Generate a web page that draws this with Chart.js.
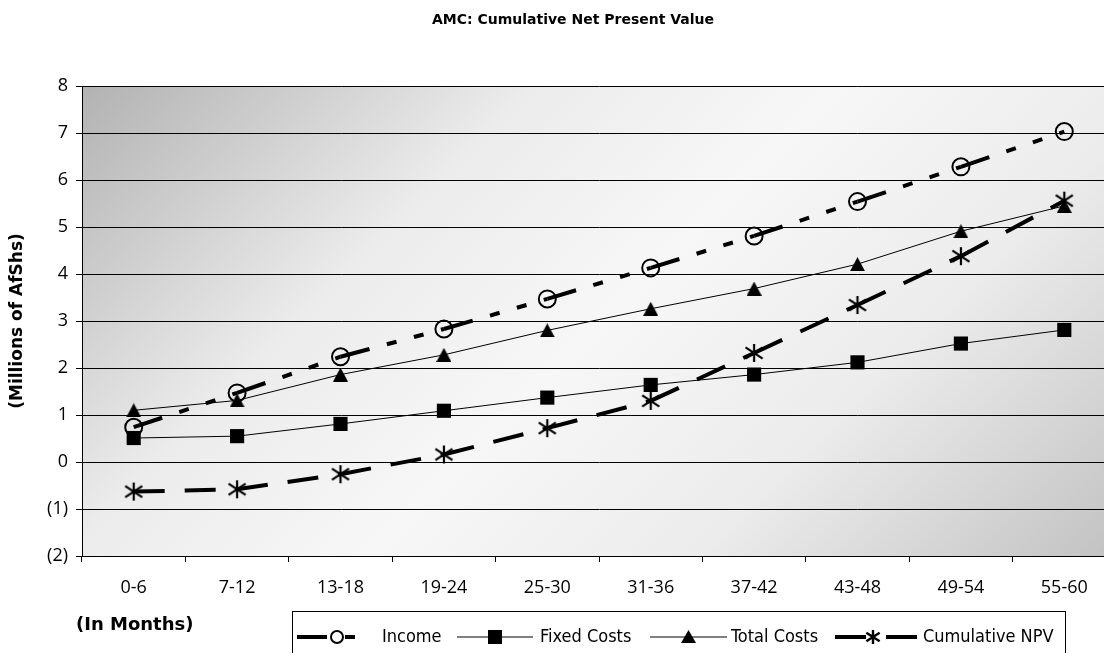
<!DOCTYPE html>
<html><head><meta charset="utf-8">
<script src="https://cdn.jsdelivr.net/npm/chart.js@4.4.1/dist/chart.umd.min.js"></script>
<style>
html,body{margin:0;padding:0;background:#fff;overflow:hidden;width:1104px;height:653px;}
#wrap{position:absolute;left:0;top:0;width:1150px;height:653px;}
</style></head><body>
<div id="wrap"><canvas id="c" width="1150" height="653"></canvas></div>
<script>
const categories = ['0-6','7-12','13-18','19-24','25-30','31-36','37-42','43-48','49-54','55-60'];
const income        = [0.74, 1.47, 2.24, 2.83, 3.47, 4.13, 4.81, 5.54, 6.28, 7.03];
const fixedCosts    = [0.51, 0.55, 0.81, 1.09, 1.37, 1.64, 1.86, 2.12, 2.52, 2.81];
const totalCosts    = [1.10, 1.31, 1.86, 2.28, 2.80, 3.26, 3.69, 4.21, 4.91, 5.45];
const cumulativeNPV = [-0.63, -0.58, -0.26, 0.16, 0.72, 1.30, 2.32, 3.34, 4.38, 5.56];
const yMin = -2, yMax = 8, yStep = 1;
const seriesNames = ['Income','Fixed Costs','Total Costs','Cumulative NPV'];
const chartTitle = 'AMC: Cumulative Net Present Value';
const yTitle = '(Millions of AfShs)';
const xTitle = '(In Months)';

const TICK_FONT = "'Open Sans', sans-serif";
const BOLD_FONT = "'DejaVu Sans', sans-serif";
const LEGEND_FONT = "'DejaVu Sans Condensed', 'DejaVu Sans', sans-serif";

function makeStar(size, lw){
  const c=document.createElement('canvas'); c.width=size; c.height=size;
  const g=c.getContext('2d'); g.strokeStyle='#000'; g.lineWidth=lw; g.lineCap='butt';
  const m=size/2, r=size/2-1;
  g.beginPath();
  g.moveTo(m, m-r); g.lineTo(m, m+r);
  g.moveTo(m-r*0.95, m-r*0.62); g.lineTo(m+r*0.95, m+r*0.62);
  g.moveTo(m-r*0.95, m+r*0.62); g.lineTo(m+r*0.95, m-r*0.62);
  g.stroke();
  return c;
}
function makeTri(w, h){
  const c=document.createElement('canvas'); c.width=w; c.height=h;
  const g=c.getContext('2d'); g.fillStyle='#000';
  g.beginPath(); g.moveTo(w/2,0); g.lineTo(w,h); g.lineTo(0,h); g.closePath(); g.fill();
  return c;
}
const starImg = makeStar(20, 2.2);
const triImg = makeTri(15, 14);
const starSmall = makeStar(16, 2.4);
const triSmall = makeTri(15, 13);

const incomeDash = [30, 18, 10, 18, 10, 18];
const npvDash = [31, 20];

const bgPlugin = {
  id: 'bg',
  beforeDraw(chart){
    const {ctx, chartArea:a} = chart;
    const w=a.right-a.left, h=a.bottom-a.top, D=(w+h)/2;
    const g=ctx.createLinearGradient(a.left, a.top, a.left+D, a.top+D);
    g.addColorStop(0, '#b2b2b2');
    g.addColorStop(0.3, '#ececec');
    g.addColorStop(0.5, '#f7f7f7');
    g.addColorStop(0.72, '#ececec');
    g.addColorStop(1, '#c2c2c2');
    ctx.save(); ctx.fillStyle=g; ctx.fillRect(a.left, a.top, w, h); ctx.restore();
  }
};

const textPlugin = {
  id: 'texts',
  afterDraw(chart){
    const ctx = chart.ctx;
    ctx.save();
    ctx.fillStyle = '#000';
    ctx.textBaseline = 'middle';
    ctx.textAlign = 'center';
    ctx.font = "bold 14px " + BOLD_FONT;
    ctx.fillText(chartTitle, 573, 20);
    ctx.textAlign = 'left';
    ctx.font = "bold 18px " + BOLD_FONT;
    ctx.fillText(xTitle, 76, 625);
    ctx.restore();
  }
};

const legendPlugin = {
  id: 'customLegend',
  afterDraw(chart){
    const ctx = chart.ctx;
    ctx.save();
    const top = 611, left = 292, right = 1065, bottom = 668;
    ctx.strokeStyle = '#000'; ctx.lineWidth = 1;
    ctx.strokeRect(left+0.5, top+0.5, right-left, bottom-top);
    const cy = 637;
    ctx.font = "18px " + LEGEND_FONT;
    ctx.fillStyle = '#000'; ctx.textBaseline = 'middle'; ctx.textAlign='left';
    const items = [
      {x0:297, x1:358, tx:382, kind:'income'},
      {x0:457, x1:533, tx:540, kind:'fixed'},
      {x0:650, x1:727, tx:731, kind:'total'},
      {x0:835, x1:918, tx:923, kind:'npv'}
    ];
    items.forEach((it, i) => {
      const ds = chart.data.datasets[i];
      const mx = (it.x0+it.x1)/2;
      ctx.save();
      ctx.strokeStyle='#000'; ctx.lineWidth = ds.borderWidth;
      ctx.setLineDash(ds.borderDash || []);
      ctx.beginPath(); ctx.moveTo(it.x0, cy); ctx.lineTo(it.x1, cy); ctx.stroke();
      ctx.restore();
      if (it.kind==='income'){
        ctx.save(); ctx.beginPath(); ctx.arc(337, cy, 6, 0, Math.PI*2);
        ctx.fillStyle='#fff'; ctx.fill(); ctx.lineWidth=2; ctx.strokeStyle='#000'; ctx.stroke(); ctx.restore();
      } else if (it.kind==='fixed'){
        ctx.fillRect(mx-7, cy-7, 14, 14);
      } else if (it.kind==='total'){
        ctx.drawImage(triSmall, 681, cy-7);
      } else {
        ctx.drawImage(starSmall, 873-8, cy-8);
      }
      ctx.fillText(ds.label, it.tx, cy);
    });
    ctx.restore();
  }
};

const segDash = (pattern) => ({
  borderDash: () => pattern,
  borderDashOffset: (c) => c.p0DataIndex * 0.00001
});

new Chart(document.getElementById('c'), {
  type: 'line',
  data: {
    labels: categories,
    datasets: [
      { label: seriesNames[0], data: income, borderColor:'#000', borderWidth:4, borderDash: incomeDash,
        segment: segDash(incomeDash),
        pointStyle:'circle', pointRadius:8.5, pointBorderWidth:2, pointBorderColor:'#000', pointBackgroundColor:'rgba(0,0,0,0)', fill:false, tension:0 },
      { label: seriesNames[1], data: fixedCosts, borderColor:'#000', borderWidth:1,
        pointStyle:'rect', pointRadius:10, pointBorderWidth:0, pointBackgroundColor:'#000', pointBorderColor:'#000', fill:false, tension:0 },
      { label: seriesNames[2], data: totalCosts, borderColor:'#000', borderWidth:1,
        pointStyle: triImg, pointRadius:8, fill:false, tension:0 },
      { label: seriesNames[3], data: cumulativeNPV, borderColor:'#000', borderWidth:4, borderDash: npvDash,
        segment: segDash(npvDash),
        pointStyle: starImg, pointRadius:10, fill:false, tension:0 }
    ]
  },
  options: {
    responsive:false, animation:false, devicePixelRatio:1,
    layout:{ padding:{ left:0, right:34, top:86, bottom:0 } },
    plugins:{
      legend:{ display:false },
      tooltip:{ enabled:false },
      title:{ display:false }
    },
    scales:{
      x:{
        offset:true,
        grid:{ offset:true, drawOnChartArea:false, drawTicks:true, tickLength:6, color:'#000' },
        border:{ display:true, color:'#000', width:1 },
        ticks:{ color:'#000', padding:15, font:{ family:TICK_FONT, size:18 } },
        title:{ display:false, text:xTitle },
        afterFit(s){ s.height = 97; }
      },
      y:{
        min:yMin, max:yMax,
        grid:{ drawOnChartArea:true, drawTicks:true, tickLength:6, color:'#000', lineWidth:1 },
        border:{ display:true, color:'#000', width:1 },
        ticks:{ stepSize:yStep, color:'#000', padding:8, font:{ family:TICK_FONT, size:18 },
          callback:(v)=> v<0 ? '('+(-v)+')' : String(v) },
        title:{ display:true, text:yTitle, color:'#000',
          font:{ family:BOLD_FONT, size:17, weight:'bold', lineHeight:1.2 }, padding:{ top:7, bottom:0 } },
        afterFit(s){ s.width = 82; }
      }
    }
  },
  plugins:[bgPlugin, textPlugin, legendPlugin]
});
</script>
</body></html>
